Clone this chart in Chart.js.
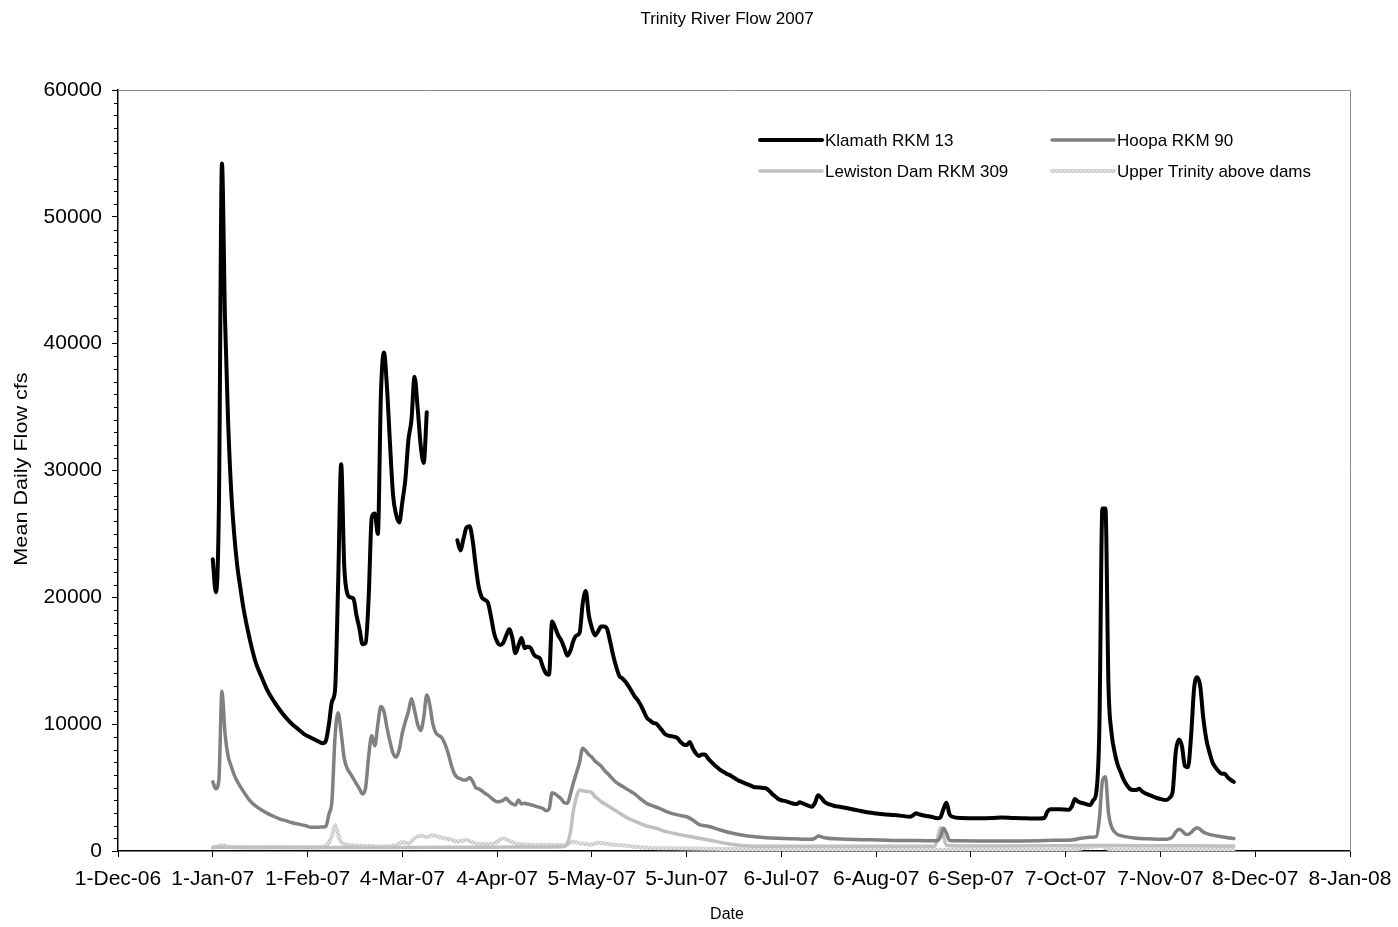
<!DOCTYPE html>
<html>
<head>
<meta charset="utf-8">
<title>Trinity River Flow 2007</title>
<script src="https://cdn.jsdelivr.net/npm/chart.js@4.4.1/dist/chart.umd.min.js"></script>
<style>
  html, body { margin: 0; padding: 0; background: #ffffff; }
  canvas { display: block; }
</style>
</head>
<body>
<canvas id="flow" width="1398" height="927"></canvas>
<script>
// Tick labels along the date axis, one every 31 days starting 1-Dec-06
const xTickLabels = ['1-Dec-06', '1-Jan-07', '1-Feb-07', '4-Mar-07', '4-Apr-07', '5-May-07',
  '5-Jun-07', '6-Jul-07', '6-Aug-07', '6-Sep-07', '7-Oct-07', '7-Nov-07', '8-Dec-07', '8-Jan-08'];
const yTickValues = [0, 10000, 20000, 30000, 40000, 50000, 60000];

// Mean daily flow (cfs): [days after 1 Jan 2007, flow]
const klamath = [
  [0,23000],[1,20400],[2,27000],[3,54200],[4,42000],[5,34000],[6,28500],[7,25000],[8,22500],[9,20800],
  [10,19200],[12,16800],[14,14900],[16,13700],[18,12600],[20,11800],[22,11100],[24,10500],[26,10000],[28,9600],
  [30,9200],[32,8950],[34,8700],[36,8500],[37,8700],[38,10000],[39,11800],[40,12700],[41,21000],[42,30500],
  [43,22500],[44,20300],[45,20000],[46,19900],[47,18600],[48,17500],[49,16300],[50,16400],[51,20000],[52,26300],
  [53,26600],[54,25000],[55,36000],[56,39300],[57,36500],[58,32000],[59,28000],[60,26500],[61,25900],[62,27500],
  [63,29300],[64,32400],[65,34000],[66,37400],[67,35000],[68,32000],[69,30600],[70,34600],[75,null],
  [80,24500],[81,23700],[82,24600],[83,25500],[84,25600],[85,24500],[86,22500],[87,20800],[88,20000],[89,19800],
  [90,19600],[91,18500],[92,17200],[93,16500],[94,16240],[95,16400],[96,17000],[97,17480],[98,16800],[99,15600],
  [100,16200],[101,16800],[102,16000],[103,16100],[104,16000],[105,15500],[106,15300],[107,15200],[108,14500],[109,14000],
  [110,13900],[111,18100],[112,17600],[113,17000],[114,16600],[115,16000],[116,15400],[117,15800],[118,16600],[119,17000],
  [120,17200],[121,19500],[122,20500],[123,18600],[124,17600],[125,17000],[126,17300],[127,17700],[128,17700],[129,17500],
  [130,16500],[131,15400],[132,14500],[133,13800],[134,13600],[135,13350],[136,13000],[137,12600],[138,12200],[139,11900],
  [140,11500],[141,11000],[142,10500],[143,10300],[144,10100],[145,10050],[146,9800],[147,9500],[148,9200],[149,9100],
  [150,9050],[151,9000],[152,8900],[153,8600],[154,8400],[155,8350],[156,8600],[157,8100],[158,7700],[159,7500],
  [160,7600],[161,7600],[162,7300],[163,7050],[164,6800],[165,6600],[166,6400],[167,6250],[168,6100],[169,6000],
  [170,5850],[171,5700],[172,5550],[173,5450],[174,5350],[175,5250],[176,5150],[177,5050],[178,5020],[179,5000],
  [180,4970],[181,4940],[182,4750],[183,4500],[184,4300],[185,4100],[186,4000],[187,3950],[188,3880],[189,3800],
  [190,3720],[191,3700],[192,3840],[193,3750],[194,3650],[195,3550],[196,3490],[197,3800],[198,4400],[199,4200],
  [200,3900],[201,3750],[202,3650],[203,3580],[204,3520],[205,3490],[208,3350],[211,3200],[214,3050],[217,2950],
  [220,2880],[223,2840],[226,2750],[228,2700],[229,2800],[230,2970],[231,2900],[233,2780],[235,2700],[237,2580],
  [238,2650],[239,3300],[240,3800],[241,2900],[242,2700],[245,2600],[250,2580],[255,2600],[258,2650],[262,2600],
  [266,2580],[270,2560],[272,2600],[273,3100],[274,3300],[277,3300],[280,3250],[281,3500],[282,4100],[283,3900],
  [285,3750],[287,3620],[288,4000],[289,4600],[290,9500],[291,27000],[292,27000],[293,13000],[294,9300],[295,7800],
  [296,6800],[297,6200],[298,5600],[299,5200],[300,4900],[301,4800],[302,4800],[303,4900],[304,4700],[305,4550],
  [306,4450],[308,4250],[310,4100],[312,4020],[313,4200],[314,4700],[315,7800],[316,8800],[317,8300],[318,6700],
  [319,6600],[320,9000],[321,12800],[322,13700],[323,13000],[324,10500],[325,8800],[326,7800],[327,7000],[328,6600],
  [329,6300],[330,6100],[331,6100],[332,5800],[333,5600],[334,5450]
];

const hoopa = [
  [0,5460],[1,4900],[2,5600],[3,12600],[4,9300],[5,7500],[6,6700],[7,6000],[8,5500],[10,4700],
  [12,4020],[14,3550],[16,3230],[18,2950],[20,2720],[22,2520],[24,2380],[26,2230],[28,2120],[30,2020],
  [32,1880],[34,1870],[36,1900],[37,1950],[38,2900],[39,4000],[40,9000],[41,10900],[42,9300],[43,7300],
  [44,6500],[45,6100],[46,5700],[47,5300],[48,4900],[49,4500],[50,5000],[51,7500],[52,9100],[53,8300],
  [54,10000],[55,11400],[56,11000],[57,9700],[58,8600],[59,7700],[60,7400],[61,8000],[62,9300],[63,10200],
  [64,11000],[65,12000],[66,11100],[67,10000],[68,9500],[69,10500],[70,12300],[71,11500],[72,10000],[73,9300],
  [74,9100],[75,8900],[76,8400],[77,7700],[78,6800],[79,6100],[80,5800],[81,5700],[82,5600],[83,5600],
  [84,5800],[85,5500],[86,5000],[87,4900],[88,4750],[89,4550],[90,4400],[92,4000],[93,3890],[94,3900],
  [95,4000],[96,4150],[97,3900],[98,3700],[99,3630],[100,4020],[101,3700],[102,3760],[103,3700],[104,3650],
  [106,3500],[108,3350],[109,3180],[110,3300],[111,4600],[112,4500],[113,4300],[114,4100],[115,3800],[116,3760],
  [117,4500],[118,5400],[119,6200],[120,7000],[121,8100],[122,7900],[123,7600],[124,7400],[125,7100],[126,6900],
  [127,6700],[128,6400],[130,5900],[132,5400],[134,5100],[136,4800],[138,4500],[140,4100],[142,3750],[144,3550],
  [146,3370],[148,3150],[150,2970],[152,2850],[154,2750],[155,2700],[157,2450],[159,2100],[162,1950],[166,1660],
  [170,1400],[175,1180],[180,1070],[185,1000],[190,960],[196,920],[197,1000],[198,1180],[200,1050],[205,950],
  [210,900],[218,870],[225,820],[230,820],[237,810],[238,1100],[239,1790],[240,1400],[241,830],[245,800],
  [255,780],[265,790],[275,840],[281,870],[284,1000],[287,1080],[289,1130],[290,2500],[291,5500],[292,5860],
  [293,3000],[294,1900],[295,1500],[296,1300],[298,1150],[302,1000],[306,960],[312,920],[314,1130],[315,1500],
  [316,1710],[317,1600],[318,1350],[319,1300],[320,1450],[321,1700],[322,1840],[323,1700],[324,1500],[325,1390],
  [327,1250],[330,1130],[332,1050],[334,980]
];

const lewiston = [
  [0,300],[30,280],[60,280],[90,300],[110,320],[115,350],[116,600],[117,1500],[118,3200],[119,4300],
  [120,4800],[121,4750],[122,4700],[123,4700],[124,4600],[125,4300],[126,4100],[127,3900],[129,3600],[131,3300],
  [133,3000],[135,2700],[137,2450],[139,2250],[141,2050],[143,1900],[145,1790],[148,1550],[151,1380],[154,1230],
  [157,1100],[160,960],[163,830],[166,680],[169,560],[172,450],[175,400],[180,380],[190,370],[200,370],
  [230,380],[236,380],[237,900],[238,1840],[239,1200],[240,450],[245,400],[260,400],[280,420],[290,430],
  [300,420],[320,410],[334,400]
];

const upperTrinity = [
  [0,250],[3,450],[6,300],[15,280],[25,300],[35,300],[37,400],[39,1200],[40,2050],[41,1300],
  [42,700],[44,500],[50,400],[55,350],[60,450],[62,700],[64,600],[66,1000],[68,1200],[70,1100],
  [72,1250],[74,1100],[76,1000],[78,900],[80,750],[83,870],[86,600],[89,550],[92,600],[95,1000],
  [97,800],[99,600],[103,500],[107,470],[111,480],[115,470],[118,730],[120,600],[122,550],[124,500],
  [126,650],[128,600],[131,500],[134,450],[138,330],[142,260],[150,210],[160,170],[180,140],[200,120],
  [220,110],[240,100],[260,100],[280,100],[291,400],[292,250],[295,120],[310,120],[334,130]
];

const FONT = "'Liberation Sans', Arial, sans-serif";
const DAY_OFFSET = 31; // 1 Jan 2007 sits 31 days after the axis origin (1 Dec 2006)

function toPoints(series) {
  return series.map(([day, flow]) => ({ x: day + DAY_OFFSET, y: flow }));
}

// Fine stipple used for the "above dams" line
function stipple() {
  const c = document.createElement('canvas');
  c.width = 4; c.height = 4;
  const g = c.getContext('2d');
  g.fillStyle = '#d6d6d6';
  g.fillRect(0, 0, 4, 4);
  g.fillStyle = '#b8b8b8';
  g.fillRect(0, 0, 1, 1); g.fillRect(2, 2, 1, 1);
  g.fillStyle = '#efefef';
  g.fillRect(2, 0, 1, 1); g.fillRect(0, 2, 1, 1);
  return g.createPattern(c, 'repeat');
}

const stipplePattern = stipple();

const decorations = {
  id: 'decorations',
  afterDraw(chart) {
    const { ctx, chartArea: a, scales } = chart;
    ctx.save();
    // top and right frame
    ctx.strokeStyle = '#8c8c8c';
    ctx.lineWidth = 1;
    ctx.beginPath();
    ctx.moveTo(a.left, a.top + 0.5);
    ctx.lineTo(a.right + 0.5, a.top + 0.5);
    ctx.lineTo(a.right + 0.5, a.bottom);
    ctx.stroke();

    // minor ticks every 1000 cfs on the value axis
    ctx.strokeStyle = '#000';
    ctx.beginPath();
    for (let v = 1000; v < 60000; v += 1000) {
      if (v % 10000 === 0) continue;
      const y = Math.round(scales.y.getPixelForValue(v)) + 0.5;
      ctx.moveTo(a.left - 4, y);
      ctx.lineTo(a.left, y);
    }
    ctx.stroke();

    // titles
    ctx.fillStyle = '#000';
    ctx.textAlign = 'center';
    ctx.textBaseline = 'middle';
    ctx.font = '17px ' + FONT;
    ctx.fillText('Trinity River Flow 2007', 727, 19);
    ctx.font = '16px ' + FONT;
    ctx.fillText('Date', 727, 915);
    ctx.save();
    ctx.translate(22, 469);
    ctx.rotate(-Math.PI / 2);
    ctx.scale(1.2, 1);
    ctx.font = '18px ' + FONT;
    ctx.fillText('Mean Daily Flow cfs', 0, 0);
    ctx.restore();

    // legend, two columns by two rows
    const slots = [[760, 140], [1052, 140], [760, 171], [1052, 171]];
    ctx.font = '17px ' + FONT;
    ctx.textAlign = 'left';
    chart.data.datasets.forEach((ds, i) => {
      const [x, y] = slots[i];
      ctx.strokeStyle = ds.borderColor;
      ctx.lineWidth = ds.borderWidth;
      ctx.lineCap = 'round';
      ctx.beginPath();
      ctx.moveTo(x, y);
      ctx.lineTo(x + 62, y);
      ctx.stroke();
      ctx.fillStyle = '#000';
      ctx.fillText(ds.label, x + 65, y + 1);
    });
    ctx.restore();
  }
};

const lineDefaults = {
  pointRadius: 0,
  fill: false,
  spanGaps: false,
  cubicInterpolationMode: 'monotone',
  borderJoinStyle: 'round',
  borderCapStyle: 'round'
};

new Chart(document.getElementById('flow'), {
  type: 'line',
  data: {
    datasets: [
      Object.assign({ label: 'Klamath RKM 13', data: toPoints(klamath), borderColor: '#000000', borderWidth: 4, order: 0 }, lineDefaults),
      Object.assign({ label: 'Hoopa RKM 90', data: toPoints(hoopa), borderColor: '#808080', borderWidth: 3.5, order: 1 }, lineDefaults),
      Object.assign({ label: 'Lewiston Dam RKM 309', data: toPoints(lewiston), borderColor: '#c0c0c0', borderWidth: 3.5, order: 2 }, lineDefaults),
      Object.assign({ label: 'Upper Trinity above dams', data: toPoints(upperTrinity), borderColor: stipplePattern, borderWidth: 4, order: 3 }, lineDefaults)
    ]
  },
  options: {
    responsive: false,
    animation: false,
    devicePixelRatio: 1,
    layout: { padding: { left: 0, right: 48, top: 90, bottom: 0 } },
    plugins: { legend: { display: false }, title: { display: false }, tooltip: { enabled: false } },
    scales: {
      x: {
        type: 'linear',
        min: 0,
        max: (xTickLabels.length - 1) * 31,
        afterBuildTicks: (scale) => { scale.ticks = xTickLabels.map((_, i) => ({ value: i * 31 })); },
        afterFit: (scale) => { scale.height = 76; scale.paddingLeft = 0; scale.paddingRight = 0; },
        ticks: {
          autoSkip: false, maxRotation: 0, minRotation: 0, padding: 10, color: '#000',
          font: { family: FONT, size: 21 },
          callback: (v) => xTickLabels[Math.round(v / 31)]
        },
        grid: { drawOnChartArea: false, tickLength: 6, color: '#000', tickWidth: 1 },
        border: { color: '#000', width: 1.5 }
      },
      y: {
        min: 0,
        max: 60000,
        afterBuildTicks: (scale) => { scale.ticks = yTickValues.map(v => ({ value: v })); },
        afterFit: (scale) => { scale.width = 118; scale.paddingTop = 0; scale.paddingBottom = 0; },
        ticks: { padding: 10, color: '#000', font: { family: FONT, size: 21 }, callback: (v) => String(v) },
        grid: { drawOnChartArea: false, tickLength: 6, color: '#000', tickWidth: 1 },
        border: { color: '#000', width: 1.5 }
      }
    }
  },
  plugins: [decorations]
});
</script>
</body>
</html>
